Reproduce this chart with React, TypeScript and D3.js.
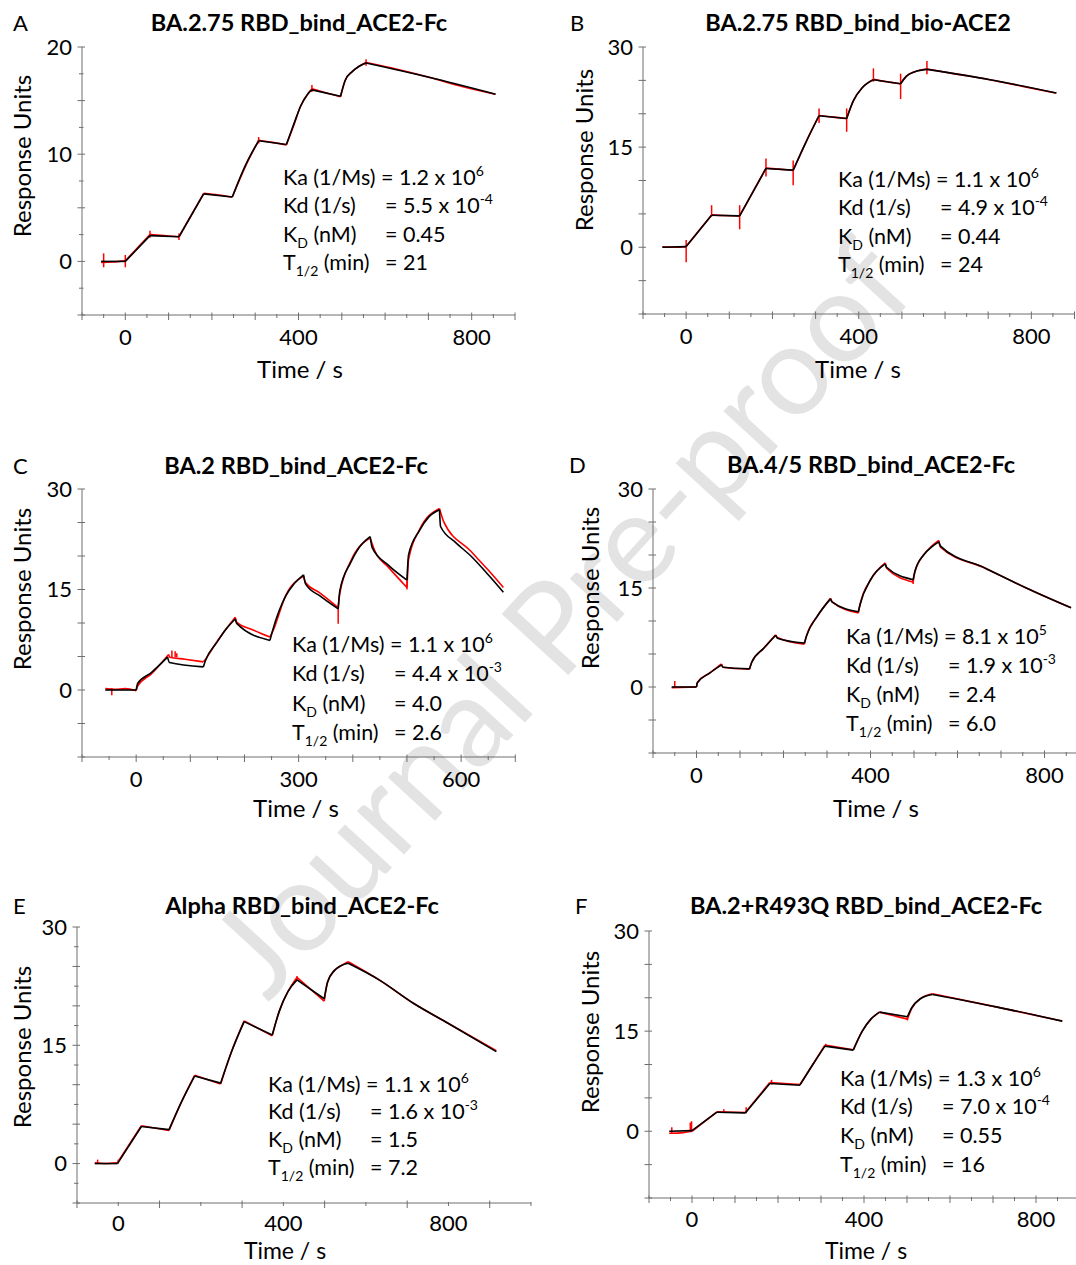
import React from 'react';
import * as d3 from 'd3';

type Pt = [number, number];
type Spike = [number, number, number];

const FONT = 'Lato, "Open Sans", "DejaVu Sans", sans-serif';

// ---------------- Panel A ----------------
const titleA = 'BA.2.75 RBD_bind_ACE2-Fc';
const phasesA = [0, 57, 124, 181, 247, 308, 372, 431, 497, 556];
const fitA: Pt[] = [[-56, 0], [0, 0], [57, 2.4], [124, 2.3], [181, 6.3], [247, 6.0], [279, 9.1], [308, 11.25], [372, 10.9], [390, 12.9], [405, 14.5], [421, 15.6], [431, 16.0], [497, 15.4], [508, 16.9], [524, 17.7], [540, 18.2], [556, 18.5], [699, 17.2], [855, 15.6]];
const rawA: Pt[] = [[-56, -0.1], [-30, -0.05], [0, 0.05], [57, 2.5], [90, 2.4], [124, 2.3], [181, 6.35], [215, 6.2], [247, 6.0], [279, 9.0], [308, 11.3], [340, 11.1], [372, 10.85], [390, 12.8], [405, 14.5], [421, 15.6], [431, 16.1], [465, 15.7], [497, 15.35], [508, 16.9], [524, 17.7], [540, 18.2], [556, 18.55], [630, 17.9], [699, 17.2], [780, 16.3], [855, 15.6]];
const spikesA: Spike[] = [[-50, -0.55, 0.75], [0, -0.55, 0.6], [57, 2.2, 2.85], [124, 2.0, 2.6], [308, 11.0, 11.6], [431, 15.8, 16.45], [556, 18.25, 18.85]];
const statsA = ['1.2', '6', '5.5', '-4', '0.45', '21'];

// ---------------- Panel B ----------------
const titleB = 'BA.2.75 RBD_bind_bio-ACE2';
const phasesB = [0, 59, 124, 185, 248, 308, 372, 434, 497, 558];
const fitB: Pt[] = [[-55, 0], [0, 0.1], [59, 4.8], [124, 4.7], [185, 11.8], [248, 11.55], [278, 15.8], [308, 19.7], [372, 19.3], [388, 22.0], [408, 23.9], [434, 25.1], [497, 24.5], [510, 25.6], [530, 26.3], [558, 26.65], [704, 25.1], [858, 23.1]];
const rawB: Pt[] = [[-55, 0.05], [-25, 0], [0, 0.1], [59, 4.85], [90, 4.75], [124, 4.7], [185, 11.85], [215, 11.7], [248, 11.5], [278, 15.8], [308, 19.75], [340, 19.5], [372, 19.3], [388, 22.0], [408, 23.9], [434, 25.15], [465, 24.8], [497, 24.5], [510, 25.6], [530, 26.3], [558, 26.7], [630, 25.9], [704, 25.1], [780, 24.1], [858, 23.1]];
const spikesB: Spike[] = [[0, -2.25, 1.1], [59, 4.6, 6.3], [124, 2.7, 6.3], [185, 10.6, 13.3], [248, 9.3, 13.0], [308, 18.6, 20.8], [372, 17.3, 20.8], [434, 24.8, 26.8], [497, 22.2, 26.0], [558, 25.9, 27.9]];
const statsB = ['1.1', '6', '4.9', '-4', '0.44', '24'];

// ---------------- Panel C ----------------
const titleC = 'BA.2 RBD_bind_ACE2-Fc';
const phasesC = [0, 58, 124, 183, 247, 309, 373, 432, 500, 560];
const fitC: Pt[] = [[-57, 0], [0, 0], [3, 1.0], [28, 2.6], [58, 4.9], [61.5, 4.1], [124, 3.45], [128, 4.4], [149, 7.1], [165, 9.0], [183, 10.6], [186, 9.9], [247, 7.4], [252, 8.9], [276, 14.0], [292, 15.9], [309, 17.2], [313, 15.8], [340, 14.0], [373, 12.1], [376, 14.8], [396, 19.0], [412, 21.3], [432, 22.9], [436, 21.2], [466, 18.6], [500, 16.4], [503, 20.2], [523, 23.8], [540, 25.8], [560, 26.9], [562, 24.4], [590, 22.0], [618, 20.0], [650, 17.2], [678, 14.6]];
const rawC: Pt[] = [[-57, 0.2], [-40, 0.1], [-20, 0.2], [0, -0.1], [3, 0.6], [28, 2.4], [60, 5.3], [62, 4.9], [90, 4.6], [124, 4.2], [128, 4.6], [149, 7.2], [183, 10.85], [186, 10.1], [215, 9.0], [247, 7.9], [252, 8.7], [276, 14.1], [309, 17.0], [313, 16.0], [339, 14.5], [373, 12.3], [376, 14.4], [396, 19.2], [432, 22.7], [441, 20.7], [466, 18.3], [500, 15.3], [503, 19.5], [523, 23.9], [560, 27.1], [568, 25.1], [618, 20.7], [650, 17.9], [678, 15.3]];
const spikesC: Spike[] = [[-45, -0.8, 0.3], [66, 4.8, 5.9], [72, 4.9, 5.8], [75, 4.9, 5.5], [373, 9.9, 12.4], [500, 15.0, 16.3]];
const statsC = ['1.1', '6', '4.4', '-3', '4.0', '2.6'];

// ---------------- Panel D ----------------
const titleD = 'BA.4/5 RBD_bind_ACE2-Fc';
const phasesD = [0, 57.5, 122, 182, 248, 308, 372, 434, 498, 557];
const fitD: Pt[] = [[-57, 0], [0, 0], [2, 0.65], [30, 2.1], [57.5, 3.35], [61, 3.0], [122, 2.75], [127, 3.75], [155, 5.9], [182, 7.85], [186, 7.4], [248, 6.65], [253, 7.75], [278, 10.75], [308, 13.35], [312, 12.85], [372, 11.4], [376, 12.5], [400, 16.25], [434, 18.65], [437, 18.15], [498, 16.25], [502, 17.5], [522, 20.0], [540, 21.2], [557, 22.0], [561, 21.35], [664, 18.0], [758, 15.0], [861, 12.0]];
const rawD: Pt[] = [[-57, -0.1], [0, 0], [2, 0.7], [30, 2.1], [57.5, 3.5], [61, 3.0], [122, 2.7], [127, 3.75], [155, 5.9], [182, 7.9], [186, 7.5], [248, 6.5], [253, 7.75], [278, 10.75], [308, 13.45], [312, 12.9], [372, 11.2], [376, 12.5], [400, 16.2], [434, 18.8], [437, 18.0], [498, 15.9], [502, 17.4], [522, 20.0], [540, 21.3], [557, 22.2], [561, 21.2], [664, 18.0], [758, 15.0], [861, 12.0]];
const spikesD: Spike[] = [[-50, 0, 0.9], [498, 15.6, 16.3]];
const statsD = ['8.1', '5', '1.9', '-3', '2.4', '6.0'];

// ---------------- Panel E ----------------
const titleE = 'Alpha RBD_bind_ACE2-Fc';
const phasesE = [-2, 56, 123, 185, 248, 305, 373, 433, 499, 557];
const fitE: Pt[] = [[-57, 0], [-2, 0], [56, 4.7], [123, 4.3], [152, 7.7], [185, 11.1], [248, 10.2], [273, 14.0], [305, 18.0], [373, 16.3], [390, 19.3], [411, 21.8], [433, 23.3], [499, 20.9], [507, 23.0], [524, 24.5], [540, 25.1], [557, 25.4], [632, 23.3], [716, 20.3], [799, 17.8], [916, 14.2]];
const rawE: Pt[] = [[-57, 0.1], [-30, 0], [-2, 0.1], [56, 4.8], [123, 4.2], [152, 7.7], [185, 11.2], [248, 10.1], [273, 14.0], [305, 18.1], [373, 16.2], [390, 19.3], [411, 21.8], [433, 23.6], [499, 20.6], [507, 23.0], [524, 24.5], [540, 25.1], [557, 25.6], [632, 23.3], [716, 20.3], [799, 17.8], [916, 14.3]];
const spikesE: Spike[] = [[-50, 0, 0.5], [0, 0, 0.5], [433, 23.2, 23.8]];
const statsE = ['1.1', '6', '1.6', '-3', '1.5', '7.2'];

// ---------------- Panel F ----------------
const titleF = 'BA.2+R493Q RBD_bind_ACE2-Fc';
const phasesF = [0, 58, 124, 181, 251, 309, 375, 436, 501, 559];
const fitF: Pt[] = [[-53, 0], [0, 0.1], [58, 2.85], [124, 2.75], [181, 7.15], [251, 6.9], [281, 10.0], [309, 12.75], [375, 12.15], [396, 15.0], [416, 16.8], [436, 17.85], [501, 17.15], [511, 18.5], [531, 19.85], [559, 20.5], [710, 18.6], [861, 16.5]];
const rawF: Pt[] = [[-53, -0.3], [-20, -0.2], [0, 0], [58, 2.9], [124, 2.8], [181, 7.3], [251, 7.0], [281, 10.0], [309, 12.9], [375, 12.2], [396, 15.0], [416, 16.8], [436, 17.85], [470, 17.3], [501, 16.8], [511, 18.4], [531, 19.85], [559, 20.6], [710, 18.6], [861, 16.5]];
const spikesF: Spike[] = [[-47, -0.3, 0.6], [-4, -0.1, 1.3], [-1, 0, 1.5], [74, 2.8, 3.3], [126, 2.7, 3.6], [185, 7.0, 7.7], [311, 12.6, 13.1], [501, 16.6, 17.2]];
const statsF = ['1.3', '6', '7.0', '-4', '0.55', '16'];

const xLabels4 = [0, 400, 800];
const xLabels3 = [0, 300, 600];
const yLabels20 = [0, 10, 20];
const yLabels30 = [0, 15, 30];

type Cfg = {
  letter: string; title: string; fit: Pt[]; raw: Pt[]; spikes: Spike[]; phases: number[]; stats: string[];
  xDom: [number, number]; yDom: [number, number]; xLabels: number[]; yLabels: number[];
  x0: number; x1: number; y0: number; y1: number;
  xStep: number; xLongEvery: number; xLongBase: number; yStep: number; yLongEvery: number;
  letterX: number; titleX: number; titleY: number; ylabX: number; ylabY: number; xlabX: number; xlabY: number;
  xTickDy: number; xlabSize: number;
  statX: number; statY: number; statDy: number;
};

const panels: Cfg[] = [
  { letter: 'A', title: titleA, fit: fitA, raw: rawA, spikes: spikesA, phases: phasesA, stats: statsA,
    xDom: [-100, 900], yDom: [-5, 20], xLabels: xLabels4, yLabels: yLabels20,
    x0: 82, x1: 515, y0: 315, y1: 47, xStep: 50, xLongEvery: 100, xLongBase: 0, yStep: 2.5, yLongEvery: 5,
    letterX: 13, titleX: 299, titleY: 31, ylabX: 22, ylabY: 156, xlabX: 300, xlabY: 369, xTickDy: 30, xlabSize: 24,
    statX: 283, statY: 177, statDy: 28.4 },
  { letter: 'B', title: titleB, fit: fitB, raw: rawB, spikes: spikesB, phases: phasesB, stats: statsB,
    xDom: [-100, 900], yDom: [-10, 30], xLabels: xLabels4, yLabels: yLabels30,
    x0: 643, x1: 1074.5, y0: 314, y1: 47, xStep: 50, xLongEvery: 100, xLongBase: 0, yStep: 5, yLongEvery: 5,
    letterX: 570, titleX: 858, titleY: 31, ylabX: 584, ylabY: 150, xlabX: 858, xlabY: 369, xTickDy: 30, xlabSize: 24,
    statX: 838, statY: 179, statDy: 28.4 },
  { letter: 'C', title: titleC, fit: fitC, raw: rawC, spikes: spikesC, phases: phasesC, stats: statsC,
    xDom: [-100, 700], yDom: [-10, 30], xLabels: xLabels3, yLabels: yLabels30,
    x0: 82, x1: 515.3, y0: 757, y1: 489, xStep: 50, xLongEvery: 100, xLongBase: 0, yStep: 5, yLongEvery: 5,
    letterX: 13, titleX: 296, titleY: 474, ylabX: 22, ylabY: 589, xlabX: 296, xlabY: 808, xTickDy: 30, xlabSize: 24,
    statX: 292, statY: 644, statDy: 29.5 },
  { letter: 'D', title: titleD, fit: fitD, raw: rawD, spikes: spikesD, phases: phasesD, stats: statsD,
    xDom: [-100, 900], yDom: [-10, 30], xLabels: xLabels4, yLabels: yLabels30,
    x0: 653, x1: 1088, y0: 753, y1: 489, xStep: 50, xLongEvery: 100, xLongBase: 0, yStep: 5, yLongEvery: 5,
    letterX: 569, titleX: 871, titleY: 473, ylabX: 590, ylabY: 588, xlabX: 876, xlabY: 808, xTickDy: 30, xlabSize: 24,
    statX: 846, statY: 636, statDy: 29 },
  { letter: 'E', title: titleE, fit: fitE, raw: rawE, spikes: spikesE, phases: phasesE, stats: statsE,
    xDom: [-100, 1000], yDom: [-5, 30], xLabels: xLabels4, yLabels: yLabels30,
    x0: 77, x1: 531, y0: 1203, y1: 927, xStep: 100, xLongEvery: 200, xLongBase: -100, yStep: 2.5, yLongEvery: 5,
    letterX: 13, titleX: 302, titleY: 914, ylabX: 22, ylabY: 1047, xlabX: 285, xlabY: 1251, xTickDy: 28, xlabSize: 23,
    statX: 268, statY: 1084, statDy: 27.7 },
  { letter: 'F', title: titleF, fit: fitF, raw: rawF, spikes: spikesF, phases: phasesF, stats: statsF,
    xDom: [-100, 900], yDom: [-10, 30], xLabels: xLabels4, yLabels: yLabels30,
    x0: 649, x1: 1079, y0: 1198, y1: 931, xStep: 50, xLongEvery: 100, xLongBase: 0, yStep: 5, yLongEvery: 5,
    letterX: 575, titleX: 866, titleY: 914, ylabX: 590, ylabY: 1032, xlabX: 866, xlabY: 1251, xTickDy: 29, xlabSize: 23,
    statX: 840, statY: 1078, statDy: 28.7 },
];

function split(data: Pt[], phases: number[]): Pt[][] {
  const cuts = phases.map((p) => {
    let best = 0;
    let bd = Infinity;
    data.forEach((d, i) => {
      const dd = Math.abs(d[0] - p);
      if (dd < bd) { bd = dd; best = i; }
    });
    return best;
  });
  const idx = Array.from(new Set([0, ...cuts, data.length - 1])).sort((a, b) => a - b);
  const segs: Pt[][] = [];
  for (let i = 0; i < idx.length - 1; i++) segs.push(data.slice(idx[i], idx[i + 1] + 1));
  return segs;
}

const AXIS = '#6e6e6e';
const SUP = 14;

function Panel({ p }: { p: Cfg }) {
  const x = d3.scaleLinear().domain(p.xDom).range([p.x0, p.x1]);
  const y = d3.scaleLinear().domain(p.yDom).range([p.y0, p.y1]);
  const line = d3.line<Pt>().x((d) => x(d[0])).y((d) => y(d[1])).curve(d3.curveMonotoneX);
  const xTicks = d3.range(p.xDom[0], p.xDom[1] + 0.001, p.xStep);
  const yTicks = d3.range(p.yDom[0], p.yDom[1] + 0.001, p.yStep);
  const eq = 102;
  const [ka, kaE, kd, kdE, kD, t12] = p.stats;
  const sy = (i: number) => p.statY + i * p.statDy;
  return (
    <g fontFamily={FONT}>
      <text x={p.letterX} y={p.titleY} fontSize={22}>{p.letter}</text>
      <text x={p.titleX} y={p.titleY} fontSize={23.5} fontWeight="bold" textAnchor="middle">{p.title}</text>
      {/* axes */}
      <line x1={x(p.xDom[0])} x2={x(p.xDom[1])} y1={p.y0} y2={p.y0} stroke={AXIS} strokeWidth={1} />
      <line x1={p.x0} x2={p.x0} y1={p.y0} y2={p.y1} stroke={AXIS} strokeWidth={1} />
      {xTicks.map((t) => {
        const long = Math.abs((((t - p.xLongBase) % p.xLongEvery) + p.xLongEvery) % p.xLongEvery) < 0.001;
        return <line key={'xt' + t} x1={x(t)} x2={x(t)} y1={p.y0 - (long ? 2.5 : 1)} y2={p.y0 + (long ? 5 : 3)} stroke={AXIS} strokeWidth={1} />;
      })}
      {yTicks.map((t) => {
        const long = Math.abs(((t % p.yLongEvery) + p.yLongEvery) % p.yLongEvery) < 0.001;
        return <line key={'yt' + t} x1={p.x0 - (long ? 4.5 : 3)} x2={p.x0 + (long ? 3 : 1.5)} y1={y(t)} y2={y(t)} stroke={AXIS} strokeWidth={1} />;
      })}
      {p.xLabels.map((t) => (
        <text key={'xl' + t} x={x(t)} y={p.y0 + p.xTickDy} fontSize={22} textAnchor="middle">{t}</text>
      ))}
      {p.yLabels.map((t) => (
        <text key={'yl' + t} x={p.x0 - 10} y={y(t)} dy="0.36em" fontSize={22} textAnchor="end">{t}</text>
      ))}
      <text x={p.xlabX} y={p.xlabY} dy="0.36em" fontSize={p.xlabSize} textAnchor="middle">Time / s</text>
      <text transform={`translate(${p.ylabX},${p.ylabY}) rotate(-90)`} dy="0.36em" fontSize={24} textAnchor="middle">Response Units</text>
      {/* data */}
      {split(p.raw, p.phases).map((s, i) => (
        <path key={'r' + i} d={line(s) || ''} fill="none" stroke="#ff0000" strokeWidth={1.6} />
      ))}
      {p.spikes.map((s, i) => (
        <line key={'s' + i} x1={x(s[0])} x2={x(s[0])} y1={y(s[1])} y2={y(s[2])} stroke="#ff0000" strokeWidth={1.5} />
      ))}
      {split(p.fit, p.phases).map((s, i) => (
        <path key={'f' + i} d={line(s) || ''} fill="none" stroke="#000" strokeWidth={1.6} />
      ))}
      {/* stats */}
      <g fontSize={21.5}>
        <text x={p.statX} y={sy(0)} dy="0.36em">Ka (1/Ms) = {ka} x 10<tspan dy={-9} fontSize={SUP}>{kaE}</tspan></text>
        <text x={p.statX} y={sy(1)} dy="0.36em">Kd (1/s)</text>
        <text x={p.statX + eq} y={sy(1)} dy="0.36em">= {kd} x 10<tspan dy={-9} fontSize={SUP}>{kdE}</tspan></text>
        <text x={p.statX} y={sy(2)} dy="0.36em">K<tspan dy={6} fontSize={SUP}>D</tspan><tspan dy={-6}> (nM)</tspan></text>
        <text x={p.statX + eq} y={sy(2)} dy="0.36em">= {kD}</text>
        <text x={p.statX} y={sy(3)} dy="0.36em">T<tspan dy={6} fontSize={SUP}>1/2</tspan><tspan dy={-6}> (min)</tspan></text>
        <text x={p.statX + eq} y={sy(3)} dy="0.36em">= {t12}</text>
      </g>
    </g>
  );
}

export default function App() {
  return (
    <svg width={1076} height={1265} viewBox="0 0 1076 1265" style={{ position: 'absolute', left: 0, top: 0, background: '#fff' }}>
      <rect x={0} y={0} width={1076} height={1265} fill="#fff" />
      <text x={560} y={617} dy="0.36em" fontFamily={FONT} fontSize={126} fill="#e3e3e3" textAnchor="middle" transform="rotate(-47.5 560 617)">Journal Pre-proof</text>
      {panels.map((p) => <Panel key={p.letter} p={p} />)}
    </svg>
  );
}
